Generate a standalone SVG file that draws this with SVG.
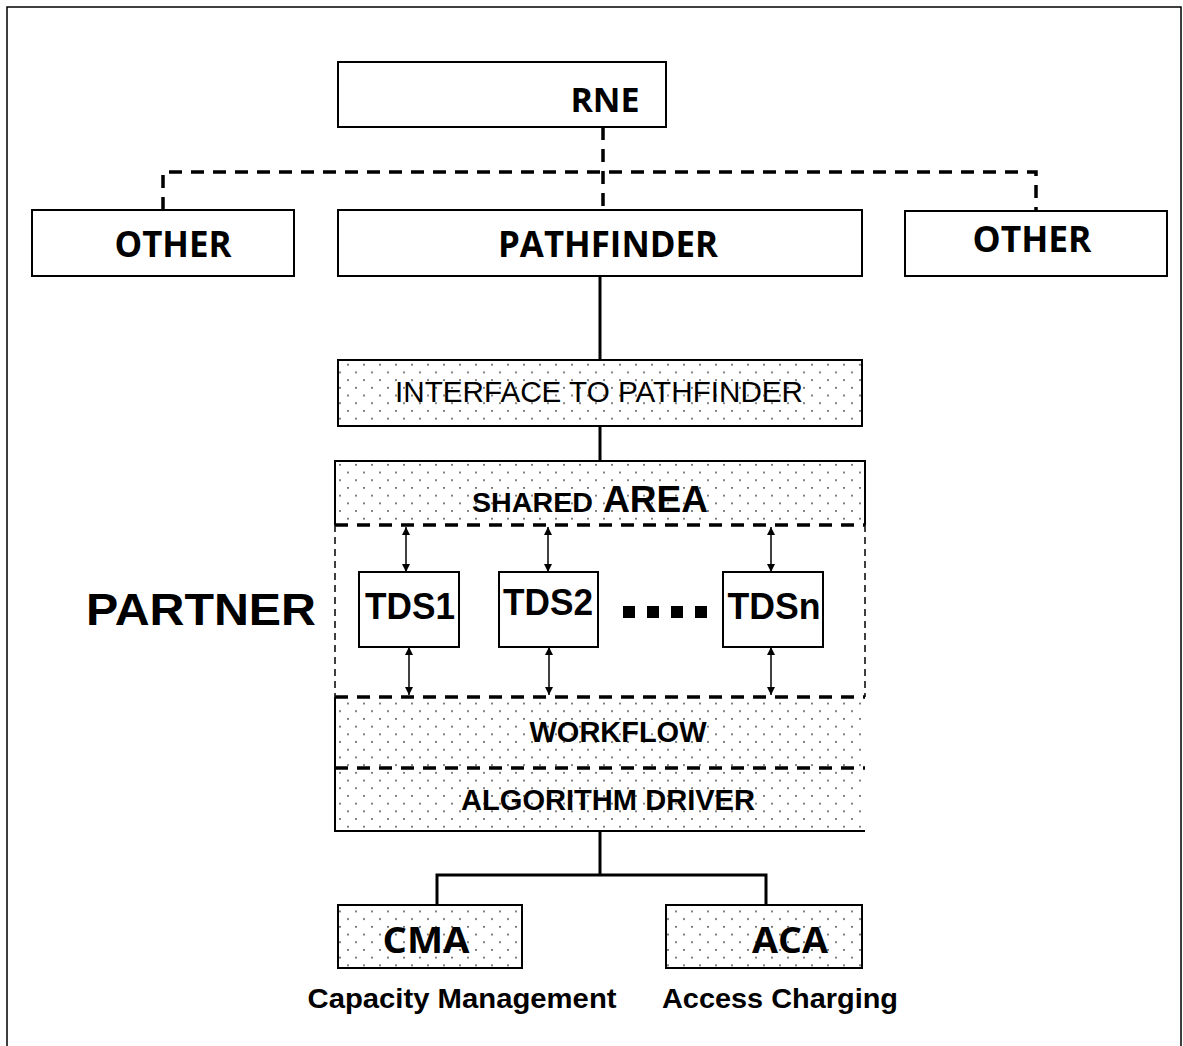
<svg xmlns="http://www.w3.org/2000/svg" width="1183" height="1046" viewBox="0 0 1183 1046">
<defs>
<pattern id="dots" x="335" y="461" width="16" height="15.4" patternUnits="userSpaceOnUse">
<rect x="4" y="3" width="2" height="1.6" fill="#666"/>
<rect x="12" y="10.7" width="2" height="1.6" fill="#666"/>
</pattern>
<marker id="ah" viewBox="0 0 10 10" refX="10" refY="5" markerWidth="8" markerHeight="10" markerUnits="userSpaceOnUse" orient="auto-start-reverse">
<path d="M0,0 L10,5 L0,10 z" fill="#000"/>
</marker>
</defs>
<style>
.box{fill:#fff;stroke:#000;stroke-width:2}
.dbox{fill:url(#dots);stroke:#000;stroke-width:2}
.os{font-family:"Open Sans",sans-serif;font-weight:bold;fill:#000}
.ar{font-family:"Liberation Sans",Arial,sans-serif;fill:#000}
.b{font-weight:bold}
.thickdash{fill:none;stroke:#000;stroke-width:3.5;stroke-dasharray:13 9}
.thindash{fill:none;stroke:#000;stroke-width:1.5;stroke-dasharray:7 5}
.solid{fill:none;stroke:#000;stroke-width:3}
.arrow{fill:none;stroke:#000;stroke-width:1.5;marker-start:url(#ah);marker-end:url(#ah)}
</style>
<rect width="1183" height="1046" fill="#fff"/>
<path d="M7,1046 V7 H1181 V1046" fill="none" stroke="#000" stroke-width="1.5"/>

<g id="connectors">
<path class="thickdash" d="M603,127 V210"/>
<path class="thickdash" d="M163,210 V172 H1036 V211"/>
<path class="solid" d="M600,276 V360"/>
<path class="solid" d="M600,426 V461"/>
<path class="solid" d="M600,831 V875 M437,905 V875 H766 V905"/>
<path class="arrow" d="M406,527 V572"/>
<path class="arrow" d="M409,647 V695"/>
<path class="arrow" d="M548,527 V572"/>
<path class="arrow" d="M549,647 V695"/>
<path class="arrow" d="M771,527 V572"/>
<path class="arrow" d="M771,647 V695"/>
</g>

<g id="rne"><rect class="box" x="338" y="62" width="328" height="65"/><text class="os" x="605" y="112" font-size="34" text-anchor="middle">RNE</text></g>
<g id="other-left"><rect class="box" x="32" y="210" width="262" height="66"/><text class="os" x="173" y="257" font-size="35" text-anchor="middle" textLength="117" lengthAdjust="spacingAndGlyphs">OTHER</text></g>
<g id="pathfinder"><rect class="box" x="338" y="210" width="524" height="66"/><text class="os" x="608" y="257" font-size="35" text-anchor="middle" textLength="220" lengthAdjust="spacingAndGlyphs">PATHFINDER</text></g>
<g id="other-right"><rect class="box" x="905" y="211" width="262" height="65"/><text class="os" x="1032" y="252" font-size="35" text-anchor="middle" textLength="119" lengthAdjust="spacingAndGlyphs">OTHER</text></g>

<g id="interface"><rect class="dbox" x="338" y="360" width="524" height="66"/><text class="ar" x="599" y="402" font-size="29" text-anchor="middle" textLength="408" lengthAdjust="spacingAndGlyphs">INTERFACE TO PATHFINDER</text></g>

<g id="partner">
<rect x="335" y="461" width="530" height="64" fill="url(#dots)"/>
<path d="M335,525 V461 H865 V525" fill="none" stroke="#000" stroke-width="2"/>
<text class="ar b" x="472" y="512" font-size="27" textLength="121" lengthAdjust="spacingAndGlyphs">SHARED</text>
<text class="ar b" x="603" y="512" font-size="36" textLength="105" lengthAdjust="spacingAndGlyphs">AREA</text>
<path class="thindash" d="M335,525 V697 M865,525 V697"/>
<rect x="335" y="697" width="530" height="134" fill="url(#dots)"/>
<path d="M335,697 V831 H865" fill="none" stroke="#000" stroke-width="2"/>
<path class="thickdash" d="M335,525 H865"/>
<path class="thickdash" d="M335,697 H865"/>
<path class="thickdash" d="M335,768 H865"/>
<text class="ar b" x="618" y="742" font-size="29" text-anchor="middle" textLength="177" lengthAdjust="spacingAndGlyphs">WORKFLOW</text>
<text class="ar b" x="608" y="810" font-size="29" text-anchor="middle" textLength="294" lengthAdjust="spacingAndGlyphs">ALGORITHM DRIVER</text>
</g>
<text id="partner-label" class="ar b" x="86" y="625" font-size="45" textLength="230" lengthAdjust="spacingAndGlyphs">PARTNER</text>

<g id="tds1"><rect class="box" x="359" y="572" width="100" height="75"/><text class="ar b" x="410" y="619" font-size="37" text-anchor="middle" textLength="90" lengthAdjust="spacingAndGlyphs">TDS1</text></g>
<g id="tds2"><rect class="box" x="499" y="572" width="99" height="75"/><text class="ar b" x="548" y="615" font-size="37" text-anchor="middle" textLength="90" lengthAdjust="spacingAndGlyphs">TDS2</text></g>
<g id="ellipsis"><rect x="623" y="606" width="12" height="12"/><rect x="647" y="606" width="12" height="12"/><rect x="671" y="606" width="12" height="12"/><rect x="695" y="606" width="12" height="12"/></g>
<g id="tdsn"><rect class="box" x="723" y="572" width="100" height="75"/><text class="ar b" x="774" y="619" font-size="37" text-anchor="middle" textLength="93" lengthAdjust="spacingAndGlyphs">TDSn</text></g>

<g id="cma"><rect class="dbox" x="338" y="905" width="184" height="63"/><text class="os" x="426" y="953" font-size="35" text-anchor="middle" textLength="87" lengthAdjust="spacingAndGlyphs">CMA</text><text class="ar b" x="462" y="1008" font-size="28" text-anchor="middle" textLength="309" lengthAdjust="spacingAndGlyphs">Capacity Management</text></g>
<g id="aca"><rect class="dbox" x="666" y="905" width="196" height="63"/><text class="os" x="790" y="953" font-size="35" text-anchor="middle" textLength="76" lengthAdjust="spacingAndGlyphs">ACA</text><text class="ar b" x="780" y="1008" font-size="28" text-anchor="middle" textLength="236" lengthAdjust="spacingAndGlyphs">Access Charging</text></g>
</svg>
